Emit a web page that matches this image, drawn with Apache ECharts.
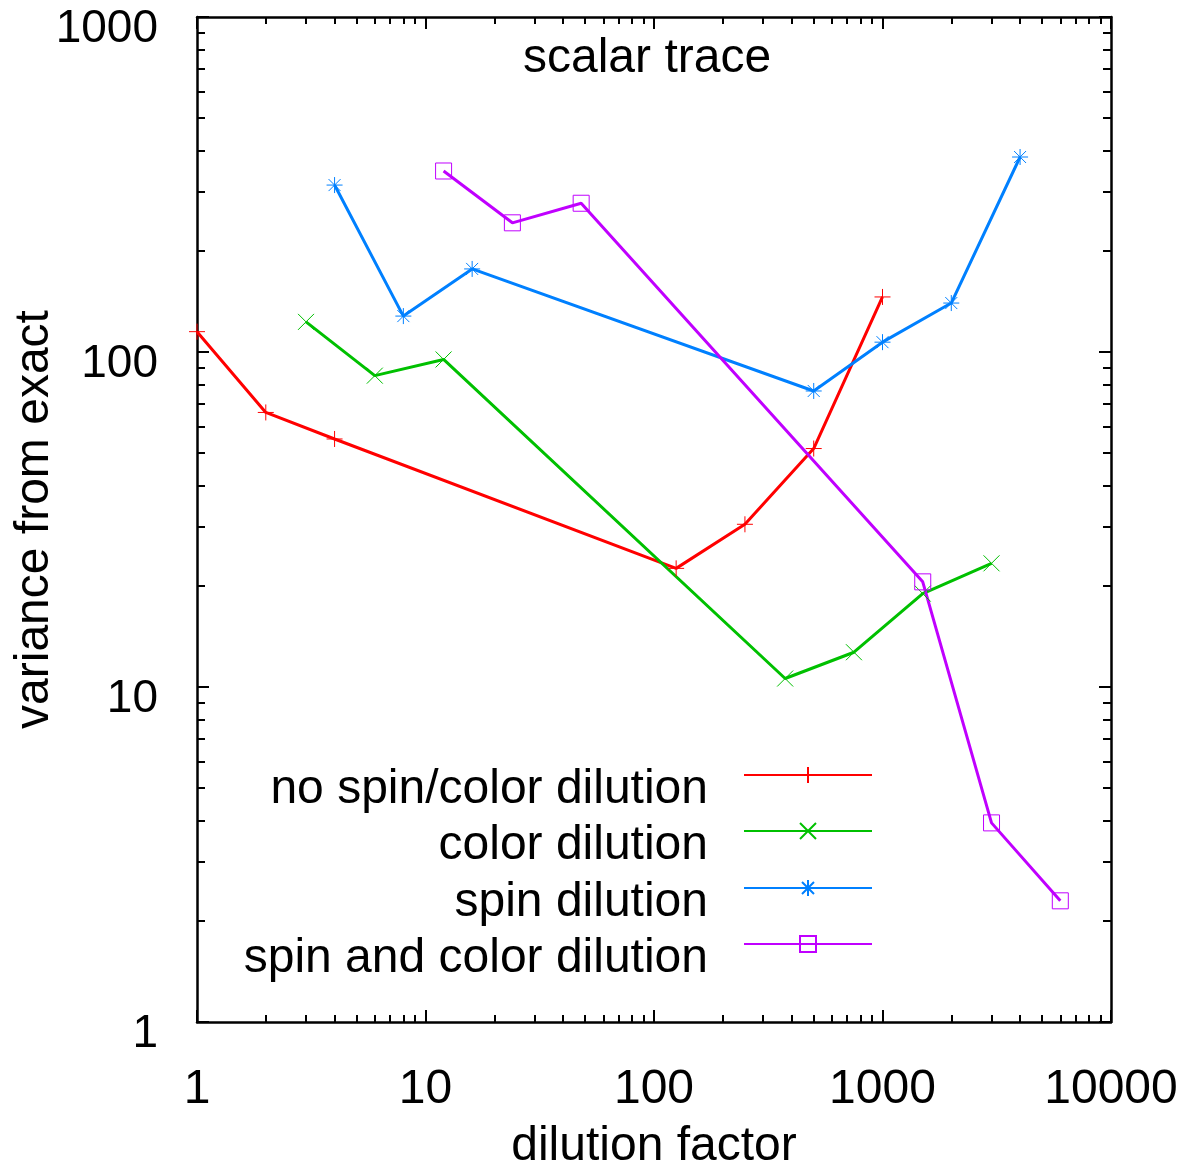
<!DOCTYPE html>
<html>
<head>
<meta charset="utf-8">
<script src="https://cdn.jsdelivr.net/npm/echarts@6/dist/echarts.min.js"></script>
<style>
  html, body { margin: 0; padding: 0; background: #fff; }
  #chart { width: 1184px; height: 1164px; }
</style>
</head>
<body>
<div id="chart"></div>
<script>
  // values
  const noDilution = [[1, 115], [2, 66], [4, 55], [125, 22.6], [250, 30.6], [500, 51.5], [1000, 146]]
  const colorDilution = [[3, 123], [6, 85], [12, 95], [375, 10.6], [750, 12.7], [1500, 19], [3000, 23.4]]
  const spinDilution = [[4, 315], [8, 128], [16, 177], [500, 76.5], [1000, 107], [2000, 140], [4000, 382]]
  const spinColorDilution = [[12, 347], [24, 243], [48, 278], [1500, 20.6], [3000, 3.93], [6000, 2.3]]

  const seriesNames = ['no spin/color dilution', 'color dilution', 'spin dilution', 'spin and color dilution']
  const seriesColors = ['#ff0000', '#00c000', '#0080ff', '#c000ff']

  const xMajor = [1, 10, 100, 1000, 10000]
  const yMajor = [1, 10, 100, 1000]
  const xMinor = []
  const yMinor = []
  for (let k = 0; k < 4; k++) {
    for (let m = 2; m <= 9; m++) {
      xMinor.push(m * Math.pow(10, k))
      if (k < 3) yMinor.push(m * Math.pow(10, k))
    }
  }

  const font = 'Liberation Sans, Arial, sans-serif'
  const fontSize = 48

  // gnuplot-like point types
  const symbols = [
    'path://M0,8L16,8M8,0L8,16',
    'path://M0,0L16,16M16,0L0,16',
    'path://M0,8L16,8M8,0L8,16M2,2L14,14M14,2L2,14',
    'path://M0,0L16,0L16,16L0,16Z'
  ]

  const gridBox = { left: 197, right: 73, top: 17, bottom: 142 }

  function xAxisOf(grid, position, ticks, len, withLine, withLabel) {
    return {
      type: 'log',
      logBase: 10,
      gridIndex: grid,
      position: position,
      min: 1,
      max: 10000,
      axisLine: { show: withLine, lineStyle: { color: '#000', width: 2.5 } },
      axisTick: { show: true, inside: true, length: len, customValues: ticks, lineStyle: { color: '#000', width: 2 } },
      axisLabel: withLabel ? {
        show: true, customValues: xMajor, margin: 44, color: '#000',
        fontFamily: font, fontSize: fontSize,
        formatter: (v) => String(v)
      } : { show: false },
      splitLine: { show: false },
      minorTick: { show: false }
    }
  }

  function yAxisOf(grid, position, ticks, len, withLine, withLabel) {
    return {
      type: 'log',
      logBase: 10,
      gridIndex: grid,
      position: position,
      min: 1,
      max: 1000,
      axisLine: { show: withLine, lineStyle: { color: '#000', width: 2.5 } },
      axisTick: { show: true, inside: true, length: len, customValues: ticks, lineStyle: { color: '#000', width: 2 } },
      axisLabel: withLabel ? {
        show: true, customValues: yMajor, margin: 39, color: '#000',
        fontFamily: font, fontSize: 46,
        verticalAlign: 'top', lineHeight: 24,
        formatter: (v) => String(v)
      } : { show: false },
      splitLine: { show: false },
      minorTick: { show: false }
    }
  }

  const xAxes = [
    xAxisOf(0, 'bottom', xMajor, 12, true, true),
    xAxisOf(0, 'top', xMajor, 12, true, false),
    xAxisOf(1, 'bottom', xMinor, 7, false, false),
    xAxisOf(1, 'top', xMinor, 7, false, false)
  ]
  xAxes[0].name = 'dilution factor'
  xAxes[0].nameLocation = 'middle'
  xAxes[0].nameGap = 101
  xAxes[0].nameMoveOverlap = false
  xAxes[0].nameTextStyle = { fontFamily: font, fontSize: fontSize, color: '#000' }

  const yAxes = [
    yAxisOf(0, 'left', yMajor, 12, true, true),
    yAxisOf(0, 'right', yMajor, 12, true, false),
    yAxisOf(1, 'left', yMinor, 8, false, false),
    yAxisOf(1, 'right', yMinor, 8, false, false)
  ]
  yAxes[0].name = 'variance from exact'
  yAxes[0].nameLocation = 'middle'
  yAxes[0].nameGap = 138
  yAxes[0].nameMoveOverlap = false
  yAxes[0].nameTextStyle = { fontFamily: font, fontSize: fontSize, color: '#000' }

  const allData = [noDilution, colorDilution, spinDilution, spinColorDilution]
  const series = allData.map((d, i) => ({
    name: seriesNames[i],
    type: 'line',
    xAxisIndex: 0,
    yAxisIndex: 0,
    data: d,
    symbol: symbols[i],
    symbolSize: 16,
    lineStyle: { color: seriesColors[i], width: 3 },
    itemStyle: { color: 'rgba(0,0,0,0)', borderColor: seriesColors[i], borderWidth: 1 },
    emphasis: { disabled: true },
    z: 3
  }))

  const legendTops = [736, 792, 849, 905]
  const legends = seriesNames.map((n, i) => ({
    data: [n],
    orient: 'vertical',
    align: 'right',
    right: 311,
    top: legendTops[i],
    itemWidth: 128,
    itemHeight: 20,
    padding: 0,
    selectedMode: false,
    formatter: (name) => '{t|' + name + '}',
    textStyle: {
      rich: {
        t: {
          fontFamily: font, fontSize: fontSize, color: '#000',
          lineHeight: 50, padding: [30, 31, 0, 0]
        }
      }
    }
  }))

  const chart = echarts.init(document.getElementById('chart'), null, { renderer: 'canvas' })
  chart.setOption({
    animation: false,
    backgroundColor: '#fff',
    title: {
      text: 'scalar trace',
      left: 523,
      top: 35,
      padding: 0,
      textStyle: { fontFamily: font, fontSize: fontSize, fontWeight: 'normal', color: '#000' }
    },
    legend: legends,
    grid: [
      Object.assign({ containLabel: false, outerBoundsMode: 'none' }, gridBox),
      Object.assign({ containLabel: false, outerBoundsMode: 'none' }, gridBox)
    ],
    xAxis: xAxes,
    yAxis: yAxes,
    series: series
  })
</script>
</body>
</html>
